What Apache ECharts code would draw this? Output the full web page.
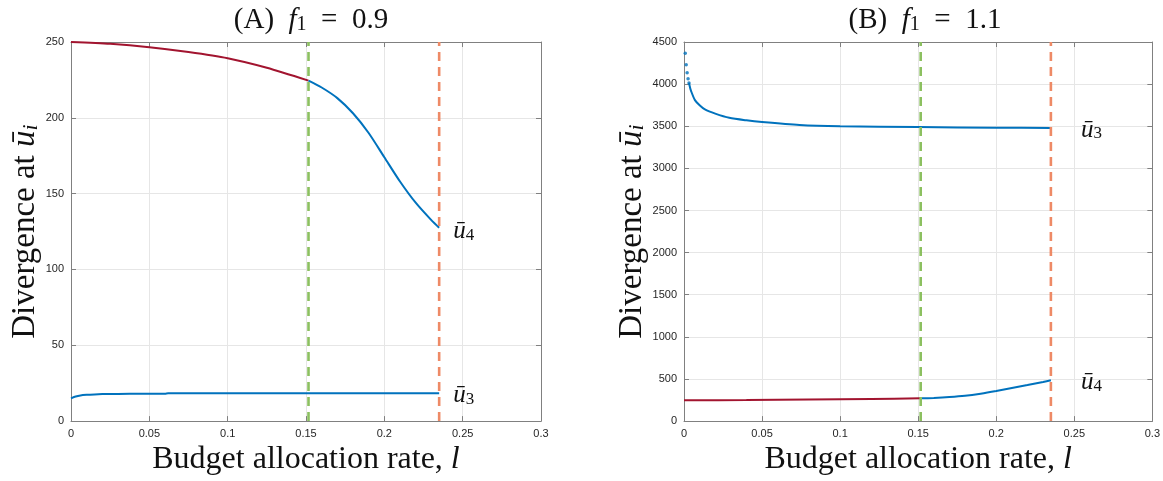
<!DOCTYPE html>
<html>
<head>
<meta charset="utf-8">
<script src="https://cdn.jsdelivr.net/npm/echarts@6/dist/echarts.min.js"></script>
<style>
  html, body { margin: 0; padding: 0; background: #fff; }
  #chart { width: 1163px; height: 481px; }
</style>
</head>
<body>
<div id="chart"></div>
<script>
// ---- Panel (A): f1 = 0.9 ----
const aUpperRedL  = [0, 0.025, 0.05, 0.075, 0.1, 0.125, 0.1516];
const aUpperRedV  = [250, 248.8, 246.6, 243.4, 239.3, 233.0, 224.5];
const aUpperBlueL = [0.1516, 0.16, 0.17, 0.18, 0.19, 0.20, 0.21, 0.22, 0.23, 0.235];
const aUpperBlueV = [224.5, 220, 213, 203, 190, 174, 158, 144, 132.5, 127.5];
const aLowerL     = [0, 0.003, 0.006, 0.01, 0.015, 0.02, 0.03, 0.045, 0.06, 0.062, 0.1, 0.15, 0.2, 0.235];
const aLowerV     = [15, 16.2, 16.9, 17.3, 17.6, 17.8, 17.95, 18.0, 18.05, 18.3, 18.3, 18.3, 18.3, 18.3];

// ---- Panel (B): f1 = 1.1 ----
const bUpperDotL  = [0.0008, 0.0014, 0.002, 0.0026, 0.0032];
const bUpperDotV  = [4367, 4229, 4135, 4064, 4013];
const bUpperL     = [0.0032, 0.0038, 0.0045, 0.007, 0.01, 0.0134, 0.02, 0.029, 0.04, 0.05, 0.074, 0.1, 0.15, 0.2, 0.235];
const bUpperV     = [4013, 3965, 3920, 3810, 3750, 3700, 3650, 3600, 3570, 3550, 3515, 3500, 3490, 3482, 3480];
const bLowerRedL  = [0, 0.04, 0.08, 0.12, 0.1516];
const bLowerRedV  = [247, 250, 256, 263, 270];
const bLowerBlueL = [0.1516, 0.16, 0.17, 0.18, 0.19, 0.20, 0.21, 0.22, 0.23, 0.235];
const bLowerBlueV = [270, 275, 285, 300, 325, 357, 393, 428, 465, 485];

// Regime boundaries (vertical dashed lines)
const boundaryGreen  = 0.1516;
const boundaryOrange = 0.235;

// Axis ticks
const xTicks  = { min: 0, max: 0.3, interval: 0.05 };
const yTicksA = { min: 0, max: 250, interval: 50 };
const yTicksB = { min: 0, max: 4500, interval: 500 };

const BLUE = '#0072BD', RED = '#A2142F', GREEN = '#8CC060', ORANGE = '#EE8A66';
const SERIF = '"Liberation Serif", "DejaVu Serif", serif';
const SANS = '"Liberation Sans", Arial, sans-serif';

const pairs = (L, V) => L.map((x, i) => [x, V[i]]);

const mathRich = (size) => ({
  t:  { fontFamily: SERIF, fontSize: size, fontWeight: 'normal', color: '#111' },
  it: { fontFamily: SERIF, fontSize: size, fontWeight: 'normal', fontStyle: 'italic', color: '#111' },
  sb: { fontFamily: SERIF, fontSize: Math.round(size * 0.68), fontWeight: 'normal', color: '#111',
        verticalAlign: 'bottom', lineHeight: Math.round(size * 0.68) },
  si: { fontFamily: SERIF, fontSize: Math.round(size * 0.68), fontWeight: 'normal', fontStyle: 'italic',
        color: '#111', verticalAlign: 'bottom', lineHeight: Math.round(size * 0.68) }
});

function xAxes(gridIndex) {
  return [
    {
      type: 'value', gridIndex, position: 'bottom', ...xTicks,
      axisLine: { show: true, onZero: false, lineStyle: { color: '#808080', width: 1 } },
      axisTick: { show: true, inside: true, length: 5, lineStyle: { color: '#808080' } },
      axisLabel: { color: '#262626', fontFamily: SANS, fontSize: 11, margin: 7,
                   formatter: v => String(+v.toFixed(2)) },
      splitLine: { show: true, lineStyle: { color: '#E6E6E6', width: 1 } },
      name: '{t|Budget allocation rate, }{it|l}',
      nameLocation: 'middle', nameGap: 17,
      nameTextStyle: { rich: mathRich(32) }
    },
    {
      type: 'value', gridIndex, position: 'top', ...xTicks,
      axisLine: { show: true, onZero: false, lineStyle: { color: '#808080', width: 1 } },
      axisTick: { show: true, inside: true, length: 5, lineStyle: { color: '#808080' } },
      axisLabel: { show: false }, splitLine: { show: false }
    }
  ];
}

function yAxes(gridIndex, ticks, gap) {
  return [
    {
      type: 'value', gridIndex, position: 'left', ...ticks,
      axisLine: { show: true, onZero: false, lineStyle: { color: '#808080', width: 1 } },
      axisTick: { show: true, inside: true, length: 5, lineStyle: { color: '#808080' } },
      axisLabel: { color: '#262626', fontFamily: SANS, fontSize: 11, margin: 7,
                   formatter: v => String(v) },
      splitLine: { show: true, lineStyle: { color: '#E6E6E6', width: 1 } },
      name: '{t|Divergence at }{it|ū}{si|i}',
      nameLocation: 'middle', nameRotate: 90, nameGap: gap,
      nameTextStyle: { rich: mathRich(33) }
    },
    {
      type: 'value', gridIndex, position: 'right', ...ticks,
      axisLine: { show: true, onZero: false, lineStyle: { color: '#808080', width: 1 } },
      axisTick: { show: true, inside: true, length: 5, lineStyle: { color: '#808080' } },
      axisLabel: { show: false }, splitLine: { show: false }
    }
  ];
}

function curve(ax, data, color, extra) {
  return Object.assign({
    type: 'line', xAxisIndex: ax, yAxisIndex: ax, data,
    showSymbol: false, symbol: 'none', smooth: 0.25, animation: false,
    lineStyle: { color, width: 2 }, itemStyle: { color }, z: 3
  }, extra || {});
}

// Name tag (ū with index) drawn at the end of a curve
function tag(sub, dist, dy) {
  return {
    endLabel: {
      show: true, distance: dist, offset: [0, dy],
      formatter: () => '{it|ū}{sb|' + sub + '}',
      rich: mathRich(25)
    }
  };
}

function boundary(ax, x, yMax, color) {
  return {
    type: 'line', xAxisIndex: ax, yAxisIndex: ax, animation: false, silent: true,
    data: [[x, 0], [x, yMax]], showSymbol: false, symbol: 'none',
    lineStyle: { color, width: 2.6, type: [9, 6] }, z: 4
  };
}

const option = {
  animation: false,
  backgroundColor: '#fff',
  title: [
    { text: '{t|(A)  }{it|f}{sb|1}{t|  =  0.9}', left: 306, top: 1, textAlign: 'center',
      textStyle: { fontWeight: 'normal', rich: mathRich(29) } },
    { text: '{t|(B)  }{it|f}{sb|1}{t|  =  1.1}', left: 920, top: 1, textAlign: 'center',
      textStyle: { fontWeight: 'normal', rich: mathRich(29) } }
  ],
  grid: [
    { left: 71, top: 42, width: 470, height: 385 },
    { left: 684, top: 42, width: 471, height: 385 }
  ],
  xAxis: [...xAxes(0), ...xAxes(1)],
  yAxis: [...yAxes(0, yTicksA, 29), ...yAxes(1, yTicksB, 35)],
  series: [
    // Panel A (axes 0)
    curve(0, pairs(aUpperRedL, aUpperRedV), RED),
    curve(0, pairs(aUpperBlueL, aUpperBlueV), BLUE, tag('4', 14, 4)),
    curve(0, pairs(aLowerL, aLowerV), BLUE, Object.assign({ smooth: 0.2 }, tag('3', 14, 2))),
    boundary(0, boundaryGreen, yTicksA.max, GREEN),
    boundary(0, boundaryOrange, yTicksA.max, ORANGE),
    // Panel B (axes 2)
    {
      type: 'scatter', xAxisIndex: 2, yAxisIndex: 2, animation: false,
      data: pairs(bUpperDotL, bUpperDotV), symbolSize: 3.5,
      itemStyle: { color: BLUE }, z: 3
    },
    curve(2, pairs(bUpperL, bUpperV), BLUE, tag('3', 30, 2)),
    curve(2, pairs(bLowerRedL, bLowerRedV), RED),
    curve(2, pairs(bLowerBlueL, bLowerBlueV), BLUE, tag('4', 30, 2)),
    boundary(2, boundaryGreen, yTicksB.max, GREEN),
    boundary(2, boundaryOrange, yTicksB.max, ORANGE)
  ]
};

const chart = echarts.init(document.getElementById('chart'), null, { renderer: 'canvas' });
chart.setOption(option);
</script>
</body>
</html>
